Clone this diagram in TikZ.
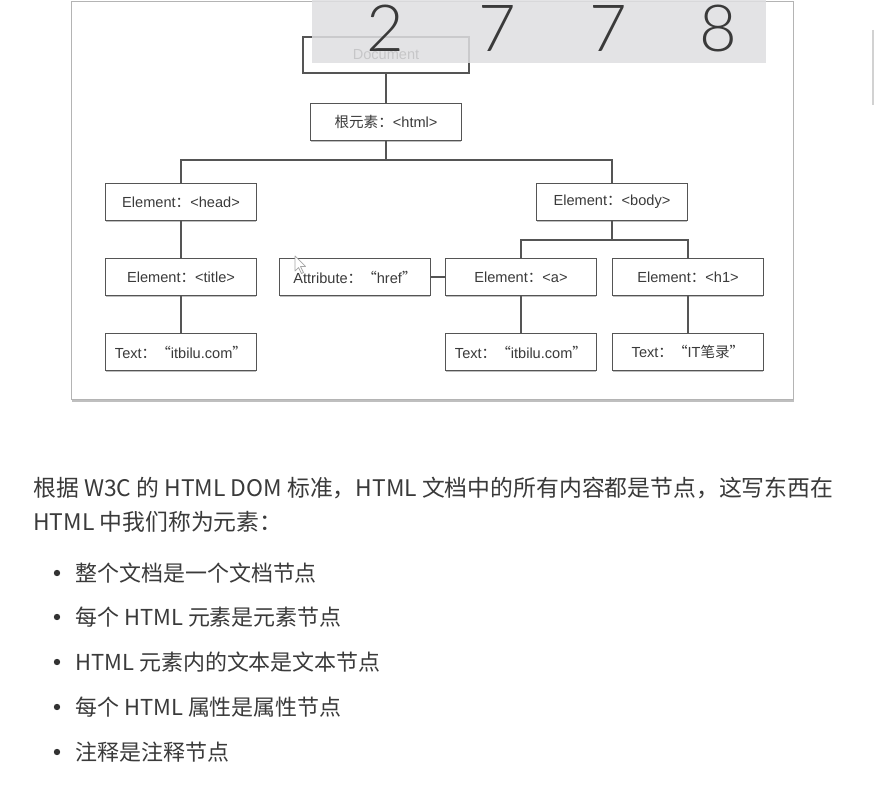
\documentclass[tikz,border=0pt]{standalone}
\usepackage{fontspec}
\usepackage{xcolor}
\usepackage{tikz}
\usetikzlibrary{shadows}
\setmainfont{Liberation Sans}
\newfontfamily\cjk{Noto Sans CJK SC}
\newfontfamily\thinfont{Lato Light}

\definecolor{boxline}{HTML}{555555}
\definecolor{textgray}{HTML}{3A3A3A}
\definecolor{frameline}{HTML}{B4B4B4}
\definecolor{overlaygray}{HTML}{DFDFE1}

\tikzset{
  domnode/.style={draw=boxline, line width=0.6pt, fill=white,
    minimum width=3.02cm, minimum height=0.74cm, inner sep=0pt,
    font=\fontsize{8.3}{10}\selectfont, text=textgray,
    drop shadow={shadow xshift=0pt, shadow yshift=-0.8pt, opacity=0.5}},
  edge/.style={draw=boxline, line width=0.6pt},
  bodytext/.style={anchor=base west, inner sep=0pt,
    font=\cjk\fontsize{12.5}{15}\selectfont, text=textgray},
}

\begin{document}
\begin{tikzpicture}[x=0.02cm, y=-0.02cm]
            \useasboundingbox (0,0) rectangle (875,790);
            \fill[white] (0,0) rectangle (875,790);

            % frame
            \draw[frameline, fill=white, drop shadow={shadow xshift=0.6pt, shadow yshift=-1.5pt, opacity=0.5}] (71,1) rectangle (793,399);

            % tree nodes
            \node[domnode, minimum width=3.32cm, minimum height=0.72cm] (doc) at (386,55) {Document};
            \node[domnode] (html) at (386,122) {{\cjk 根元素：}<html>};
            \node[domnode] (head) at (181,202) {Element{\cjk ：}<head>};
            \node[domnode] (body) at (612,202) {Element{\cjk ：}<body>};
            \node[domnode] (title) at (181,277) {Element{\cjk ：}<title>};
            \node[domnode] (attr) at (355,277) {Attribute{\cjk ：“}href{\cjk ”}};
            \node[domnode] (a) at (521,277) {Element{\cjk ：}<a>};
            \node[domnode] (h1) at (688,277) {Element{\cjk ：}<h1>};
            \node[domnode] (ttext) at (181,352) {Text{\cjk ：“}itbilu.com{\cjk ”}};
            \node[domnode] (atext) at (521,352) {Text{\cjk ：“}itbilu.com{\cjk ”}};
            \node[domnode] (htext) at (688,352) {Text{\cjk ：“}IT{\cjk 笔录”}};

            % connectors
            \coordinate (split) at (386,160);
            \coordinate (bsplit) at (612,240);
            \draw[edge] (doc.south) -- (html.north);
            \draw[edge] (html.south) -- (split);
            \draw[edge] (split) -| (head.north);
            \draw[edge] (split) -| (body.north);
            \draw[edge] (head.south) -- (title.north);
            \draw[edge] (title.south) -- (ttext.north);
            \draw[edge] (body.south) -- (bsplit);
            \draw[edge] (bsplit) -| (a.north);
            \draw[edge] (bsplit) -| (h1.north);
            \draw[edge] (attr.east) -- (a.west);
            \draw[edge] (a.south) -- (atext.north);
            \draw[edge] (h1.south) -- (htext.north);

            % overlay with digits
            \fill[overlaygray, opacity=0.85] (312,0) rectangle (766,63);
            \foreach \d/\x [count=\i] in {2/385,7/497,7/608,8/718}
                \node[font=\thinfont\fontsize{37}{37}\selectfont, text=textgray, anchor=base, inner sep=0pt] (digit\i) at (\x,52) {\d};

            % right bar and pointer
            \draw[gray!35, line width=0.8pt] (873,30) -- (873,105);
            \draw[gray!70, fill=white, line width=0.4pt, line join=round] (295,256) -- (295,271) -- (298.5,267.5) -- (301.5,273.5) -- (303.5,272.5) -- (300.5,266.5) -- (305.5,266.5) -- cycle;

            % text below
            \node[bodytext, font=\cjk\fontsize{13}{15}\selectfont] (line1) at (33,496) {根据 W3C 的 HTML DOM 标准，HTML 文档中的所有内容都是节点，这写东西在};
            \node[bodytext, font=\cjk\fontsize{13}{15}\selectfont] (line2) at (33,530) {HTML 中我们称为元素：};
            \foreach \t/\y [count=\i] in {整个文档是一个文档节点/573, 每个 HTML 元素是元素节点/617, HTML 元素内的文本是文本节点/662, 每个 HTML 属性是属性节点/707, 注释是注释节点/752}
            {
                \fill[black!80] (57,\y) circle (3.2);
                \node[bodytext] (item\i) at (75,\y+8) {\t};
            }
        \end{tikzpicture}
\end{document}
